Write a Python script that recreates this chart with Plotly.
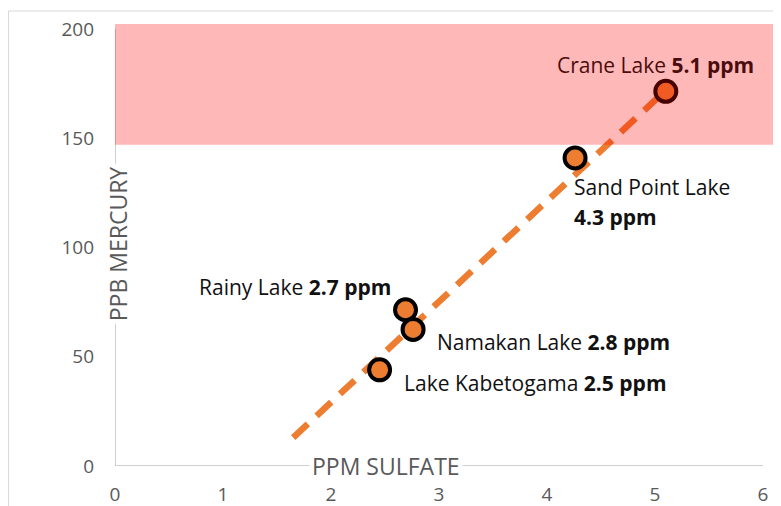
import plotly.graph_objects as go

# Data
lakes = ["Crane Lake", "Sand Point Lake", "Rainy Lake", "Namakan Lake", "Lake Kabetogama"]
sulfate_ppm = [5.1, 4.26, 2.69, 2.76, 2.45]
mercury_ppb = [171.5, 141, 71.5, 62.5, 44]
sulfate_label = ["5.1", "4.3", "2.7", "2.8", "2.5"]
trend_x = [1.65, 5.1]
trend_y = [13, 172]
danger_low = 147
x_ticks = [0, 1, 2, 3, 4, 5, 6]
y_ticks = [0, 50, 100, 150, 200]

FONT = "Open Sans"
ORANGE = "#ED7D31"
GRAY = "#595959"
AX = "#BFBFBF"

fig = go.Figure()
fig.add_trace(go.Scatter(x=trend_x, y=trend_y, mode="lines",
                         line=dict(color=ORANGE, width=6.5, dash="20px,12px"),
                         hoverinfo="skip", showlegend=False))
fig.add_trace(go.Scatter(x=sulfate_ppm, y=mercury_ppb, mode="markers", text=lakes,
                         marker=dict(size=21, color=ORANGE, line=dict(color="black", width=4)),
                         showlegend=False))

ML, MR, MT, MB = 107, 8, 16, 48
PW, PH = 781 - ML - MR, 506 - MT - MB
XMAX = PW / 108
YMAX = 202.3

shapes = [
    # axis lines
    dict(type="line", xref="x", yref="y", x0=0, x1=6, y0=0, y1=0,
         line=dict(color=AX, width=1.5), layer="below"),
    dict(type="line", xref="x", yref="y", x0=0, x1=0, y0=0, y1=200,
         line=dict(color=AX, width=1.5), layer="below"),
    # danger band
    dict(type="rect", xref="x", yref="y", x0=0, x1=XMAX, y0=danger_low, y1=YMAX,
         fillcolor="rgba(255,0,0,0.28)", line=dict(width=0), layer="above"),
    # outer chart border
    dict(type="rect", xref="paper", yref="paper", x0=-ML / PW + 0.5 / PW, x1=1.2,
         y0=-0.3, y1=(PH + MT - 3) / PH,
         line=dict(color="#D9D9D9", width=1), fillcolor="rgba(0,0,0,0)", layer="below"),
]

lab = dict(family=FONT, size=21, color="#111111")
annotations = [
    dict(x=5.0, y=183.5, text=f"{lakes[0]} <b>{sulfate_label[0]} ppm</b>", showarrow=False,
         xanchor="center", yanchor="middle", font=dict(family=FONT, size=21, color="#4a0c0c")),
    dict(x=4.23, y=127.7, text=lakes[1], showarrow=False, xanchor="left", yanchor="middle", font=lab),
    dict(x=4.23, y=114, text=f"<b>{sulfate_label[1]} ppm</b>", showarrow=False,
         xanchor="left", yanchor="middle", font=lab),
    dict(x=0.76, y=81.9, text=f"{lakes[2]} <b>{sulfate_label[2]} ppm</b>", showarrow=False,
         xanchor="left", yanchor="middle", font=lab),
    dict(x=2.96, y=56.8, text=f"{lakes[3]} <b>{sulfate_label[3]} ppm</b>", showarrow=False,
         xanchor="left", yanchor="middle", font=lab),
    dict(x=2.66, y=38, text=f"{lakes[4]} <b>{sulfate_label[4]} ppm</b>", showarrow=False,
         xanchor="left", yanchor="middle", font=lab),
    # axis titles sitting on the axis lines
    dict(x=2.51, y=0, text="PPM SULFATE", showarrow=False, xanchor="center", yanchor="middle",
         bgcolor="white", borderpad=2, font=dict(family=FONT, size=23, color=GRAY)),
    dict(x=0.03, y=101.6, text="PPB MERCURY", showarrow=False, textangle=-90,
         xanchor="center", yanchor="middle", bgcolor="white", borderpad=2,
         font=dict(family=FONT, size=23, color=GRAY)),
]

fig.update_layout(
    width=781, height=506,
    margin=dict(l=ML, r=MR, t=MT, b=MB, autoexpand=False),
    paper_bgcolor="white", plot_bgcolor="white",
    shapes=shapes, annotations=annotations,
    xaxis=dict(range=[0, XMAX], tickvals=x_ticks, showgrid=False, zeroline=False, showline=False,
               tickfont=dict(family=FONT, size=19, color=GRAY), ticks="", ticklabelstandoff=15),
    yaxis=dict(range=[0, YMAX], tickvals=y_ticks, showgrid=False, zeroline=False, showline=False,
               tickfont=dict(family=FONT, size=19, color=GRAY), ticks="", ticklabelstandoff=20),
)

fig.write_html("out.html")
